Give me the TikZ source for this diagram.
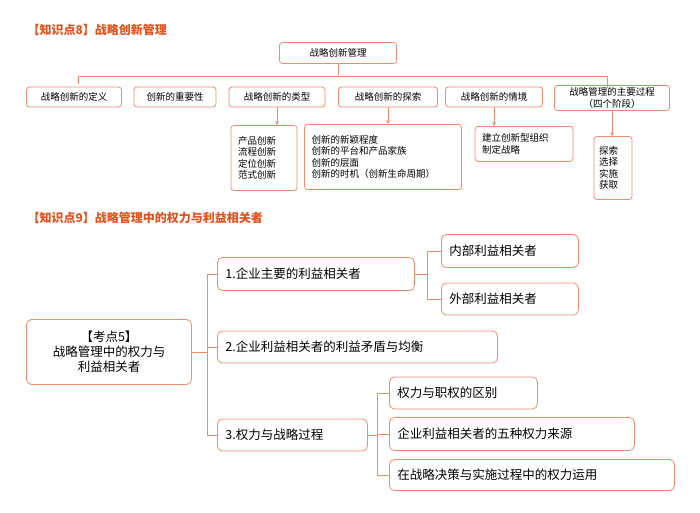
\documentclass[tikz,border=0pt]{standalone}
\usepackage{fontspec}
\setmainfont{Noto Sans CJK SC}
\usetikzlibrary{positioning}
\definecolor{edge}{HTML}{F08A6E}
\definecolor{head}{HTML}{E5501A}
\tikzset{
  box/.style={draw=edge, line width=0.8pt, rounded corners=3pt, fill=white, inner sep=3pt, font=\fontsize{9.5}{11.5}\selectfont, align=center},
  listbox/.style={box, align=left, inner xsep=7pt},
  bigbox/.style={box, rounded corners=5pt, inner xsep=8pt, font=\fontsize{12.5}{14}\selectfont, align=left, anchor=west},
  link/.style={draw=edge, line width=0.8pt},
  headline/.style={text=head, font=\fontsize{12}{14}\selectfont\bfseries, anchor=west}
}
\begin{document}
\begin{tikzpicture}[x=1pt, y=-1pt]
\useasboundingbox (0,0) rectangle (700,512);
% knowledge point 8
\node[headline] (h8) at (24,30) {【知识点8】战略创新管理};
\node[box, minimum width=117pt, minimum height=21pt] (root) at (338,53) {战略创新管理};
\node[box, minimum width=95pt, minimum height=20pt] (def) at (74,97) {战略创新的定义};
\node[box, minimum width=82pt, minimum height=20pt] (imp) at (175,97) {创新的重要性};
\node[box, minimum width=96pt, minimum height=20pt] (typ) at (277,97) {战略创新的类型};
\node[box, minimum width=99pt, minimum height=20pt] (exp) at (388,97) {战略创新的探索};
\node[box, minimum width=97pt, minimum height=20pt] (sit) at (494,97) {战略创新的情境};
\node[box, minimum width=115pt, minimum height=25pt, inner sep=1pt] (proc) at (612,98) {战略管理的主要过程\\（四个阶段）};
\node[listbox, text width=52pt, minimum height=65pt] (typsub) at (264,158) {产品创新\\流程创新\\定位创新\\范式创新};
\node[listbox, text width=143pt, minimum height=65pt] (expsub) at (383,157) {创新的新颖程度\\创新的平台和产品家族\\创新的层面\\创新的时机（创新生命周期）};
\node[listbox, text width=84pt, minimum height=35pt, anchor=north] (sitsub) at (524,126) {建立创新型组织\\制定战略};
\node[listbox, inner xsep=5pt, text width=28pt, minimum height=63pt] (procsub) at (613,168) {探索\\选择\\实施\\获取};
\draw[link] (root.south) -- ++(0,11) coordinate (bar);
\draw[link] (def.north) ++(4,-3) -- ++(0,-7) -| ([xshift=-5pt,yshift=-3pt]proc.north);
\foreach \a/\b in {typ/typsub, exp/expsub, sit/sitsub, proc/procsub}
  \draw[link, -stealth] (\a.south) -- (\a.south |- \b.north);
% knowledge point 9
\node[headline] (h9) at (24,218) {【知识点9】战略管理中的权力与利益相关者};
\node[box, rounded corners=5pt, font=\fontsize{12.5}{15}\selectfont, minimum width=165pt, minimum height=65pt] (core) at (109,352) {【考点5】\\战略管理中的权力与\\利益相关者};
\node[bigbox, text width=181pt, minimum height=33pt] (sa) at (217,274) {1.企业主要的利益相关者};
\node[bigbox, text width=264pt, minimum height=32pt] (sb) at (217,347) {2.企业利益相关者的利益矛盾与均衡};
\node[bigbox, text width=134pt, minimum height=32pt] (sc) at (217,435) {3.权力与战略过程};
\node[bigbox, text width=121pt, minimum height=33pt] (sa1) at (441,251) {内部利益相关者};
\node[bigbox, text width=121pt, minimum height=32pt] (sa2) at (441,299) {外部利益相关者};
\node[bigbox, text width=132pt, minimum height=32pt] (sc1) at (389,393) {权力与职权的区别};
\node[bigbox, text width=229pt, minimum height=33pt] (sc2) at (389,434) {企业利益相关者的五种权力来源};
\node[bigbox, text width=269pt, minimum height=31pt] (sc3) at (389,475) {在战略决策与实施过程中的权力运用};
\draw[link] (core.east) -- (207,352);
\draw[link] (sa.west) -- (207,274) -- (207,435) -- (sc.west);
\draw[link] (207,347) -- (sb.west);
\draw[link] (sa.east) -- (427,274);
\draw[link] (sa1.west) -- (427,251) -- (427,299) -- (sa2.west);
\draw[link] (sc.east) -- (377,435);
\draw[link] (sc1.west) -- (377,393) -- (377,475) -- (sc3.west);
\draw[link] (377,434) -- (sc2.west);
\end{tikzpicture}
\end{document}
